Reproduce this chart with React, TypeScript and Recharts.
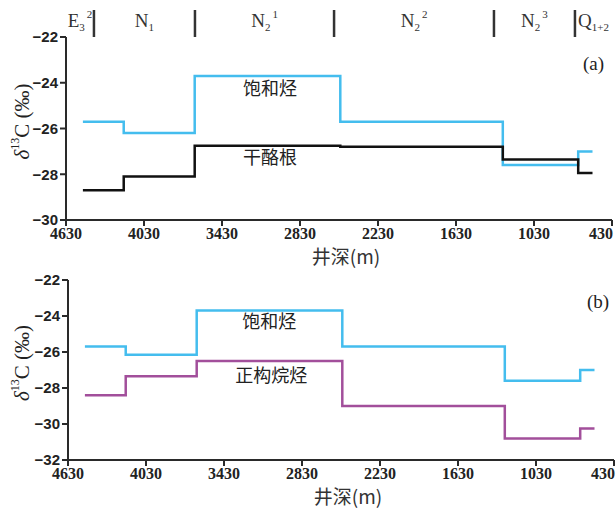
import {
  LineChart, Line, XAxis, YAxis, Label, ReferenceLine, ReferenceArea, ReferenceDot,
} from 'recharts';

// depth (m) where each segment starts, read left to right
const depths = [4500, 4186, 3640, 2520, 1270, 690, 580];
const satA = [-25.7, -26.2, -23.7, -25.7, -27.6, -27.0, -27.0];
const kerogen = [-28.7, -28.1, -26.75, -26.8, -27.35, -27.95, -27.95];
const satB = [-25.7, -26.15, -23.7, -25.7, -27.6, -27.0, -27.0];
const nAlkane = [-28.4, -27.35, -26.5, -29.0, -30.8, -30.25, -30.25];

const xTicks = [4630, 4030, 3430, 2830, 2230, 1630, 1030, 430];
const yTicksA = [-30, -28, -26, -24, -22];
const yTicksB = [-32, -30, -28, -26, -24, -22];

// stratigraphic units: boundaries (m) and names
const unitBounds = [4630, 4415, 3638, 2568, 1338, 715, 430];
const unitNames = [
  { base: 'E', sub: '3', sup: '2' },
  { base: 'N', sub: '1', sup: '' },
  { base: 'N', sub: '2', sup: '1' },
  { base: 'N', sub: '2', sup: '2' },
  { base: 'N', sub: '2', sup: '3' },
  { base: 'Q', sub: '1+2', sup: '' },
];

const CYAN = '#44bdee';
const BLACK = '#111';
const PURPLE = '#a24f9b';
const AXIS = '#2a2a2a';

const dataA = depths.map((d, i) => ({ depth: d, sat: satA[i], ker: kerogen[i] }));
const dataB = depths.map((d, i) => ({ depth: d, sat: satB[i], alk: nAlkane[i] }));

const fmtY = (v: number) => (v < 0 ? '\u2212' + Math.abs(v) : String(v));

const yTick = { fontSize: 15, fontFamily: 'Liberation Sans', fontWeight: 'bold', fill: '#222' };
const cjk = { fontSize: 18, fontFamily: 'Noto Sans CJK SC', fill: '#222' };

// last tick sits on the right edge, so pull its text inwards
const XTick = (props: any) => {
  const { x, y, payload } = props;
  const last = payload.value === 430;
  return (
    <text x={last ? x + 1 : x} y={y + 11} textAnchor={last ? 'end' : 'middle'}
      fontSize={16} fontFamily="Liberation Serif" fontWeight="bold" fill="#222">
      {payload.value}
    </text>
  );
};

const XLabel = (props: any) => {
  const vb = props.viewBox;
  return (
    <text x={vb.x + vb.width / 2 + 7} y={vb.y + 44} textAnchor="middle"
      fontSize={19} fontFamily="Noto Sans CJK SC" fill="#333">
      井深(m)
    </text>
  );
};

const YLabel = (props: any) => {
  const vb = props.viewBox;
  const cx = vb.x + 22;
  const cy = vb.y + vb.height / 2 - 7;
  return (
    <text x={cx} y={cy} transform={`rotate(-90, ${cx}, ${cy})`} textAnchor="middle"
      dominantBaseline="central" fontFamily="Liberation Serif" fontSize={21} fill="#222">
      <tspan fontStyle="italic">{'\u03b4'}</tspan><tspan dy={-7} fontSize={12}>13</tspan><tspan dy={7}>C {'(\u2030)'}</tspan>
    </text>
  );
};

const UnitLabel = (u: { base: string; sub: string; sup: string }) => (props: any) => {
  const vb = props.viewBox;
  const cx = vb.x + vb.width / 2;
  return (
    <text x={cx} y={27} textAnchor="middle" fontFamily="Liberation Serif" fontSize={19} fill="#333">
      {u.base}
      <tspan dy={4} fontSize={11}>{u.sub}</tspan>
      {u.sup && <tspan dy={-13} dx={2} fontSize={11}>{u.sup}</tspan>}
    </text>
  );
};

function xAxisEl() {
  return (
    <XAxis dataKey="depth" type="number" domain={[430, 4630]} reversed ticks={xTicks}
      interval={0} height={48} allowDataOverflow tick={<XTick />}
      axisLine={{ stroke: AXIS, strokeWidth: 2 }} tickLine={{ stroke: AXIS, strokeWidth: 2 }} tickSize={6}>
      <Label content={XLabel} />
    </XAxis>
  );
}

export default function App() {
  return (
    <div style={{ position: 'absolute', left: 0, top: 0, width: 616, height: 508, background: '#fff' }}>
      <div style={{ position: 'absolute', left: 0, top: 0 }}>
        <LineChart width={616} height={280} data={dataA} margin={{ top: 37, right: 4, bottom: 12, left: 0 }}>
          {xAxisEl()}
          <YAxis type="number" domain={[-30, -22]} ticks={yTicksA} width={66} tick={yTick}
            tickFormatter={fmtY} axisLine={{ stroke: AXIS, strokeWidth: 2 }}
            tickLine={{ stroke: AXIS, strokeWidth: 2 }} tickSize={6}>
            <Label content={YLabel} />
          </YAxis>
          {unitNames.map((u, i) => (
            <ReferenceArea key={'u' + i} x1={unitBounds[i]} x2={unitBounds[i + 1]} y1={-22} y2={-20.8}
              ifOverflow="visible" fill="none" stroke="none" label={UnitLabel(u)} />
          ))}
          {unitBounds.slice(1, -1).map((b) => (
            <ReferenceLine key={'b' + b} segment={[{ x: b, y: -22 }, { x: b, y: -20.82 }]}
              ifOverflow="visible" stroke="#333" strokeWidth={2.5} />
          ))}
          <Line type="stepAfter" dataKey="sat" stroke={CYAN} strokeWidth={2.5} dot={false} isAnimationActive={false} />
          <Line type="stepAfter" dataKey="ker" stroke={BLACK} strokeWidth={2.5} dot={false} isAnimationActive={false} />
          <ReferenceDot x={3061} y={-24.25} r={0} ifOverflow="visible" fill="none" stroke="none"
            label={{ value: '饱和烃', position: 'center', ...cjk }} />
          <ReferenceDot x={3061} y={-27.29} r={0} ifOverflow="visible" fill="none" stroke="none"
            label={{ value: '干酪根', position: 'center', ...cjk }} />
        </LineChart>
      </div>
      <div style={{ position: 'absolute', left: 0, top: 268 }}>
        <LineChart width={616} height={240} data={dataB} margin={{ top: 12, right: 2, bottom: 0, left: 0 }}>
          {xAxisEl()}
          <YAxis type="number" domain={[-32, -22]} ticks={yTicksB} width={68} tick={yTick}
            tickFormatter={fmtY} axisLine={{ stroke: AXIS, strokeWidth: 2 }}
            tickLine={{ stroke: AXIS, strokeWidth: 2 }} tickSize={6}>
            <Label content={YLabel} />
          </YAxis>
          <Line type="stepAfter" dataKey="sat" stroke={CYAN} strokeWidth={2.5} dot={false} isAnimationActive={false} />
          <Line type="stepAfter" dataKey="alk" stroke={PURPLE} strokeWidth={2.5} dot={false} isAnimationActive={false} />
          <ReferenceDot x={3082} y={-24.29} r={0} ifOverflow="visible" fill="none" stroke="none"
            label={{ value: '饱和烃', position: 'center', ...cjk }} />
          <ReferenceDot x={3066} y={-27.32} r={0} ifOverflow="visible" fill="none" stroke="none"
            label={{ value: '正构烷烃', position: 'center', ...cjk }} />
        </LineChart>
      </div>
      <div style={{ position: 'absolute', left: 583, top: 53, fontFamily: 'Liberation Serif', fontSize: 19, color: '#222' }}>(a)</div>
      <div style={{ position: 'absolute', left: 587, top: 291, fontFamily: 'Liberation Serif', fontSize: 19, color: '#222' }}>(b)</div>
    </div>
  );
}
